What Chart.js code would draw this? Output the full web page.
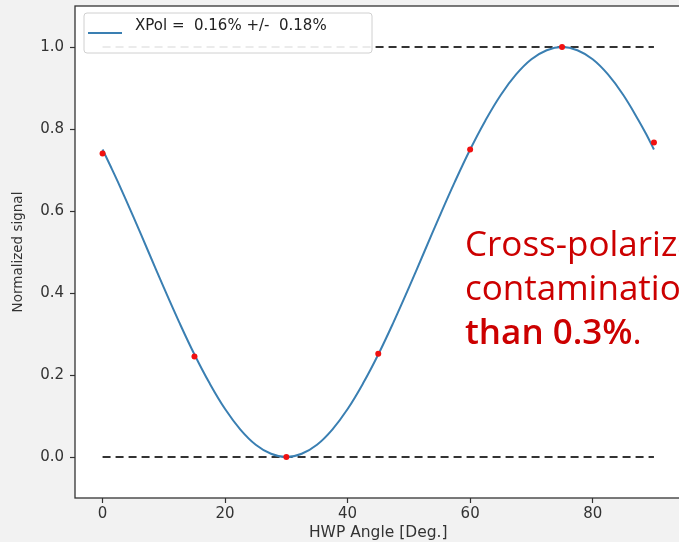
<!DOCTYPE html>
<html>
<head>
<meta charset="utf-8">
<script src="https://cdn.jsdelivr.net/npm/chart.js@4"></script>
<style>
  html, body { margin: 0; padding: 0; background: #f2f2f2; overflow: hidden; }
  #wrap { position: absolute; left: 0; top: 0; width: 690px; height: 542px; }
  #note {
    position: absolute; left: 465px; top: 221px; width: 400px;
    font-family: "Open Sans", Lato, sans-serif; font-size: 35px; line-height: 44px;
    font-variant-ligatures: none;
    color: #cc0000; white-space: nowrap;
  }
  #note b { font-weight: 650; }
</style>
</head>
<body>
<div id="wrap"><canvas id="xpolChart"></canvas></div>
<div id="note">Cross-polarization<br>contamination less<br><b>than 0.3%</b>.</div>
<script>
// measured points (HWP angle in deg, normalized signal)
const hwpAngles = [0, 15, 30, 45, 60, 75, 90];
const measuredSignal = [0.74, 0.245, 0.0, 0.252, 0.75, 1.0, 0.767];

// fitted curve (denser at the ends)
const fitAngles = [0, 1.25, 2.5, 5, 7.5, 10, 12.5, 15, 17.5, 20, 22.5, 25, 27.5, 30, 32.5, 35, 37.5,
  40, 42.5, 45, 47.5, 50, 52.5, 55, 57.5, 60, 62.5, 65, 67.5, 70, 72.5, 75, 77.5, 80, 82.5,
  85, 87.5, 88.75, 90];
const fitSignal = [0.75, 0.711, 0.671, 0.587, 0.5, 0.413, 0.329, 0.25, 0.179, 0.117, 0.067, 0.03, 0.008,
  0.0, 0.008, 0.03, 0.067, 0.117, 0.179, 0.25, 0.329, 0.413, 0.5, 0.587, 0.671, 0.75, 0.821,
  0.883, 0.933, 0.97, 0.992, 1.0, 0.992, 0.97, 0.933, 0.883, 0.821, 0.787, 0.75];

// dashed reference levels
const refLevels = [0.0, 1.0];
const refRange = [0, 90];

const xTicks = [0, 20, 40, 60, 80];
const yTicks = [0.0, 0.2, 0.4, 0.6, 0.8, 1.0];
const legendLabel = "XPol =  0.16% +/-  0.18%";

const axisColor = "#333";
const tickFont = { family: "DejaVu Sans", size: 15 };

const toXY = (xs, ys) => xs.map((x, i) => ({ x: x, y: ys[i] }));

// white plot area + frame + matplotlib-like legend
const plotFrame = {
  id: "plotFrame",
  beforeDraw(chart) {
    const a = chart.chartArea, c = chart.ctx;
    c.save();
    c.fillStyle = "#fff";
    c.fillRect(a.left, a.top, a.right - a.left, a.bottom - a.top);
    c.restore();
  },
  afterDatasetsDraw(chart) {
    const a = chart.chartArea, c = chart.ctx;
    c.save();
    // legend box
    const bx = a.left + 9, by = a.top + 7, bw = 288, bh = 40;
    c.beginPath();
    c.roundRect(bx, by, bw, bh, 3);
    c.fillStyle = "rgba(255,255,255,0.9)";
    c.fill();
    c.strokeStyle = "#d0d0d0";
    c.lineWidth = 1;
    c.stroke();
    c.strokeStyle = "#3a7fb2";
    c.lineWidth = 2;
    c.beginPath();
    c.moveTo(bx + 4, by + 20);
    c.lineTo(bx + 38, by + 20);
    c.stroke();
    c.fillStyle = "#222";
    c.font = "15px 'DejaVu Sans'";
    c.textBaseline = "middle";
    c.fillText(legendLabel, bx + 51, by + 13);
    // axes frame
    c.strokeStyle = axisColor;
    c.lineWidth = 1.3;
    c.strokeRect(a.left, a.top, a.right - a.left, a.bottom - a.top);
    c.restore();
  }
};

const dashed = (lvl) => ({
  data: toXY(refRange, [lvl, lvl]),
  borderColor: "#333",
  borderWidth: 2.2,
  borderDash: [8, 5],
  pointRadius: 0,
  showLine: true,
  order: 2
});

new Chart(document.getElementById("xpolChart"), {
  type: "scatter",
  data: {
    datasets: [
      {
        data: toXY(hwpAngles, measuredSignal),
        backgroundColor: "#f01010",
        borderColor: "#f01010",
        pointRadius: 3,
        pointBorderWidth: 0,
        order: 0
      },
      {
        data: toXY(fitAngles, fitSignal),
        borderColor: "#3a7fb2",
        borderWidth: 2,
        pointRadius: 0,
        showLine: true,
        tension: 0.4,
        order: 1
      },
      ...refLevels.map(dashed)
    ]
  },
  options: {
    responsive: true,
    maintainAspectRatio: false,
    animation: false,
    layout: { padding: { top: 6, right: 8.5, left: 0, bottom: 0 } },
    plugins: { legend: { display: false }, tooltip: { enabled: false } },
    scales: {
      x: {
        type: "linear",
        min: -4.5,
        max: 94.5,
        afterBuildTicks: (s) => { s.ticks = xTicks.map(v => ({ value: v })); },
        afterFit: (s) => { s.height = 44; s.paddingLeft = 0; s.paddingRight = 0; },
        grid: { drawOnChartArea: false, tickLength: 5, color: axisColor, tickWidth: 1.2 },
        border: { display: false },
        ticks: { font: tickFont, color: "#333", padding: 2, maxRotation: 0 },
        title: { display: true, text: "HWP Angle [Deg.]", color: "#333",
          font: { family: "DejaVu Sans", size: 15.5 }, padding: { top: 0, bottom: 0 } }
      },
      y: {
        min: -0.1,
        max: 1.1,
        afterBuildTicks: (s) => { s.ticks = yTicks.map(v => ({ value: v })); },
        afterFit: (s) => { s.width = 75; s.paddingTop = 0; s.paddingBottom = 0; },
        grid: { drawOnChartArea: false, tickLength: 5, color: axisColor, tickWidth: 1.2 },
        border: { display: false },
        ticks: { font: tickFont, color: "#333", padding: 6, callback: (v) => v.toFixed(1) },
        title: { display: true, text: "Normalized signal", color: "#333",
          font: { family: "DejaVu Sans", size: 13.5 }, padding: { top: 10, bottom: 0 } }
      }
    }
  },
  plugins: [plotFrame]
});
</script>
</body>
</html>
